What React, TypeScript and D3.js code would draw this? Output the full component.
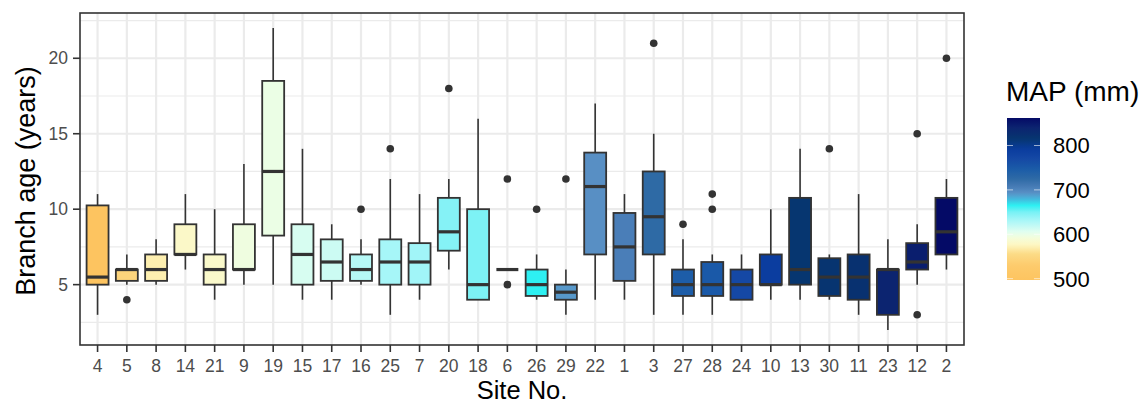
import React from "react";
import * as d3 from "d3";

const sites = ["4","5","8","14","21","9","19","15","17","16","25","7","20","18","6","26","29","22","1","3","27","28","24","10","13","30","11","23","12","2"];
const mapValues = [497,545,570,580,582,595,598,610,615,625,632,634,645,648,656,665,690,694,705,725,745,750,770,790,815,818,822,840,845,862];
const whiskerLow = [3,5,5,6,4,5,5,4,4,5,3,4,6,4,6,4,3,4,4,3,3,3,4,4,4,4,3,2,5,6];
const q1 = [5,5.25,5.25,7,5,6,8.25,5,5.25,5.25,5,5,7.25,4,6,4.25,4,7,5.25,7,4.25,4.25,4,5,5,4.25,4,3,6,7];
const medians = [5.5,6,6,7,6,6,12.5,7,6.5,6,6.5,6.5,8.5,5,6,5,4.5,11.5,7.5,9.5,5,5,5,5,6,5.5,5.5,6,6.5,8.5];
const q3 = [10.25,6,7,9,7,9,18.5,9,8,7,8,7.75,10.75,10,6,6,5,13.75,9.75,12.5,6,6.5,6,7,10.75,6.75,7,6,7.75,10.75];
const whiskerHigh = [11,7,8,11,10,13,22,14,9,8,12,11,12,16,6,7,6,17,11,15,8,7,7,10,14,7,11,8,9,12];
const outliers: number[][] = [[],[4],[],[],[],[],[],[],[],[10],[14],[],[18],[],[12,5],[10],[12],[],[],[21],[9],[11,10],[],[],[],[14],[],[],[15,3],[20]];

const yMajor = [5, 10, 15, 20];
const yMinor = [2.5, 7.5, 12.5, 17.5, 22.5];
const legendBreaks = [500, 600, 700, 800];

const colorStops: [number, string][] = [
  [497, "#FDC460"], [530, "#FDCB6C"], [557, "#FCDC88"], [575, "#FEF6C0"],
  [590, "#F6FDD8"], [605, "#E2FEF0"], [632, "#A6F6F8"], [650, "#78F1F5"],
  [665, "#2EF0F2"], [680, "#45B6DC"], [692, "#5A92C6"], [705, "#4A7EB8"],
  [725, "#2E6AA5"], [748, "#1A5BA8"], [770, "#1548A5"], [792, "#0A3C9E"],
  [815, "#063670"], [840, "#0C2470"], [862, "#040A66"],
];

const FONT = "'Liberation Sans', Arial, Helvetica, sans-serif";

export default function App() {
  const W = 1147, H = 405;
  const left = 80, right = 964, top = 13, bottom = 345;

  const x = d3.scalePoint<string>().domain(sites).range([left, right]).padding(0.6);
  const y = d3.scaleLinear().domain([1, 23]).range([bottom, top]);
  const color = d3.scaleLinear<string>()
    .domain(colorStops.map(d => d[0]))
    .range(colorStops.map(d => d[1]))
    .interpolate(d3.interpolateRgb)
    .clamp(true);
  const bw = x.step() * 0.75;

  const lgTop = 118, lgBottom = 280, lgX = 1007, lgW = 33;
  const lgScale = d3.scaleLinear().domain([497, 862]).range([lgBottom, lgTop]);
  const gradStops = d3.range(0, 1.0001, 0.02).map(t => ({
    t,
    c: color(497 + t * (862 - 497)),
  }));

  const grid = "#EBEBEB";
  const ink = "#333333";

  return (
    <svg width={W} height={H} style={{ position: "absolute", left: 0, top: 0, background: "#fff" }} fontFamily={FONT}>
      <defs>
        <linearGradient id="mapGrad" x1="0" y1="1" x2="0" y2="0">
          {gradStops.map((s, i) => (
            <stop key={i} offset={s.t} stopColor={s.c} />
          ))}
        </linearGradient>
      </defs>
      <rect x={0} y={0} width={W} height={H} fill="#fff" />
      {/* grid */}
      {yMinor.map(v => (
        <line key={"mn" + v} x1={left} x2={right} y1={y(v)} y2={y(v)} stroke={grid} strokeWidth={1.2} />
      ))}
      {yMajor.map(v => (
        <line key={"mj" + v} x1={left} x2={right} y1={y(v)} y2={y(v)} stroke={grid} strokeWidth={2.2} />
      ))}
      {sites.map(s => (
        <line key={"vg" + s} x1={x(s)} x2={x(s)} y1={top} y2={bottom} stroke={grid} strokeWidth={2.2} />
      ))}
      {/* boxes */}
      {sites.map((s, i) => {
        const cx = x(s) as number;
        return (
          <g key={"b" + s}>
            {whiskerHigh[i] > q3[i] && (
              <line x1={cx} x2={cx} y1={y(q3[i])} y2={y(whiskerHigh[i])} stroke={ink} strokeWidth={1.6} />
            )}
            {whiskerLow[i] < q1[i] && (
              <line x1={cx} x2={cx} y1={y(q1[i])} y2={y(whiskerLow[i])} stroke={ink} strokeWidth={1.6} />
            )}
            <rect x={cx - bw / 2} y={y(q3[i])} width={bw} height={y(q1[i]) - y(q3[i])}
              fill={color(mapValues[i])} stroke={ink} strokeWidth={1.8} />
            <line x1={cx - bw / 2} x2={cx + bw / 2} y1={y(medians[i])} y2={y(medians[i])} stroke={ink} strokeWidth={3.2} />
            {outliers[i].map((o, j) => (
              <circle key={j} cx={cx} cy={y(o)} r={3.8} fill={ink} />
            ))}
          </g>
        );
      })}
      {/* panel border */}
      <rect x={left} y={top} width={right - left} height={bottom - top} fill="none" stroke={ink} strokeWidth={1.6} />
      {/* y axis */}
      {yMajor.map(v => (
        <g key={"yt" + v}>
          <line x1={left - 7} x2={left} y1={y(v)} y2={y(v)} stroke={ink} strokeWidth={1.6} />
          <text x={left - 12} y={y(v)} dy="0.35em" textAnchor="end" fontSize={17.5} fill="#4D4D4D">{v}</text>
        </g>
      ))}
      {/* x axis */}
      {sites.map(s => (
        <g key={"xt" + s}>
          <line x1={x(s)} x2={x(s)} y1={bottom} y2={bottom + 7} stroke={ink} strokeWidth={1.6} />
          <text x={x(s)} y={372} textAnchor="middle" fontSize={17.5} fill="#4D4D4D">{s}</text>
        </g>
      ))}
      <text transform={`translate(35,${(top + bottom) / 2 + 2}) rotate(-90)`} textAnchor="middle" fontSize={27} fill="#000">Branch age (years)</text>
      <text x={(left + right) / 2} y={399.4} textAnchor="middle" fontSize={25.5} fill="#000">Site No.</text>
      {/* legend */}
      <text x={1006} y={101} fontSize={28} fill="#000">MAP (mm)</text>
      <rect x={lgX} y={lgTop} width={lgW} height={lgBottom - lgTop} fill="url(#mapGrad)" />
      {legendBreaks.map(v => (
        <g key={"lg" + v}>
          <line x1={lgX} x2={lgX + 6} y1={lgScale(v)} y2={lgScale(v)} stroke="#fff" strokeWidth={1} opacity={0.6} />
          <line x1={lgX + lgW - 6} x2={lgX + lgW} y1={lgScale(v)} y2={lgScale(v)} stroke="#fff" strokeWidth={1} opacity={0.6} />
          <text x={1053} y={lgScale(v)} dy="0.36em" fontSize={22} fill="#000">{v}</text>
        </g>
      ))}
    </svg>
  );
}
